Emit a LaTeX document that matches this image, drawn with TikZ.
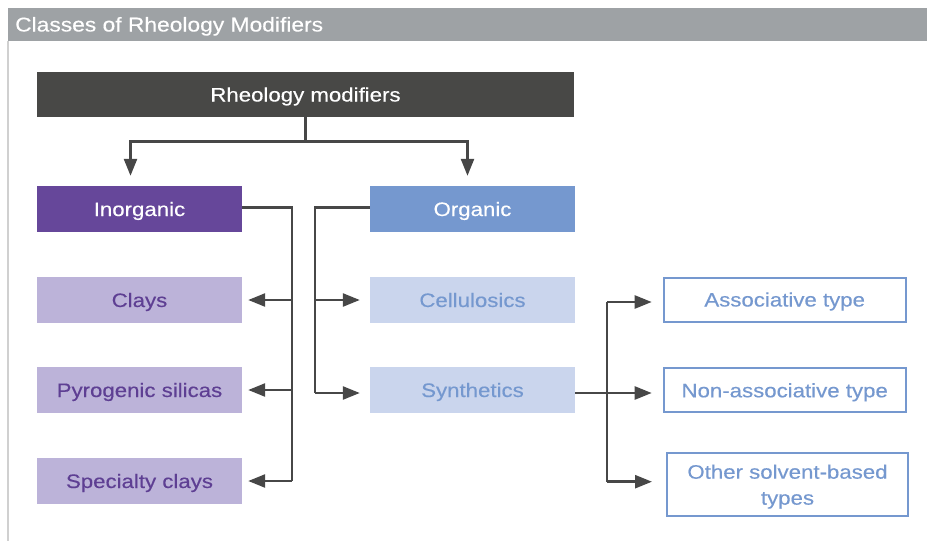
\documentclass[tikz,border=0pt]{standalone}
\usepackage{fontspec}
\setmainfont{Liberation Sans}[FakeStretch=1.14,FakeBold=0.35]
\usetikzlibrary{arrows.meta,calc}
\definecolor{hdrgray}{HTML}{9EA2A5}
\definecolor{darkbox}{HTML}{484846}
\definecolor{purp}{HTML}{66479A}
\definecolor{lpurp}{HTML}{BCB3D9}
\definecolor{purptext}{HTML}{5E3F93}
\definecolor{blu}{HTML}{7598CF}
\definecolor{lblu}{HTML}{CAD5ED}
\definecolor{linec}{HTML}{474747}
\definecolor{bordc}{HTML}{D0D0D0}
\tikzset{
  box/.style={inner sep=0pt, minimum width=205pt, minimum height=46pt, align=center, text height=18pt, text depth=4pt, font=\fontsize{19.5}{26}\selectfont},
  topbox/.style={box, fill=darkbox, text=white, minimum width=537pt, minimum height=45pt},
  inorgbox/.style={box, fill=purp, text=white},
  orgbox/.style={box, fill=blu, text=white},
  lpbox/.style={box, fill=lpurp, text=purptext},
  lbbox/.style={box, fill=lblu, text=blu},
  outbox/.style={box, draw=blu, line width=2pt, fill=white, text=blu, minimum width=242pt, minimum height=44pt},
  conn/.style={draw=linec, line width=2.5pt},
  arr/.style={conn, -{Triangle[length=17pt,width=13pt]}},
}
\begin{document}
\begin{tikzpicture}[x=1pt,y=-1pt]
\useasboundingbox (0,0) rectangle (927,541);
% header
\fill[hdrgray] (7.5,8) rectangle (927,41);
\draw[bordc, line width=1.5pt] (8,41) -- (8,541);
\node[anchor=base west, text=white, inner sep=0pt, font=\fontsize{20}{24}\selectfont] (title) at (15,31.5) {Classes of Rheology Modifiers};
% nodes
\node[topbox] (rm) at (305.5,94.5) {Rheology modifiers};
\node[inorgbox] (inorg) at (139.5,209) {Inorganic};
\node[orgbox] (org) at (472.5,209) {Organic};
\node[lpbox] (clays) at (139.5,300) {Clays};
\node[lpbox] (pyro) at (139.5,390) {Pyrogenic silicas};
\node[lpbox] (spec) at (139.5,481) {Specialty clays};
\node[lbbox] (cell) at (472.5,300) {Cellulosics};
\node[lbbox] (syn) at (472.5,390) {Synthetics};
\node[outbox] (assoc) at (784.7,299.5) {Associative type};
\node[outbox] (nonassoc) at (784.7,390.3) {Non-associative type};
\node[outbox, text height={}, text depth={}, minimum height=63pt, minimum width=241pt] (other) at (787.5,484.2) {\rule{0pt}{19pt}Other solvent-based\\types};
% top connectors
\coordinate (tj) at ($(rm.south)+(0,24.5)$);
\draw[conn] (rm.south) -- (tj);
\draw[arr] (tj) -| ($(inorg.north)+(-9,-10)$);
\draw[arr] (tj) -| ($(org.north)+(-5,-10)$);
% inorganic connectors
\coordinate (iv) at (292,0);
\draw[conn] ([yshift=1.5pt]inorg.east) -- ([yshift=1.5pt]inorg.east -| iv) -- (spec.east -| iv);
\draw[arr] (clays.east -| iv) -- ($(clays.east)+(6,0)$);
\draw[arr] (pyro.east -| iv) -- ($(pyro.east)+(6,0)$);
\draw[arr] (spec.east -| iv) -- ($(spec.east)+(6,0)$);
% organic connectors
\coordinate (ov) at (315,0);
\draw[conn] ([yshift=1.5pt]org.west) -- ([yshift=1.5pt]org.west -| ov) -- ([yshift=-3pt]syn.west -| ov);
\draw[arr] (cell.west -| ov) -- ($(cell.west)+(-10,0)$);
\draw[arr] ([yshift=-3pt]syn.west -| ov) -- ($([yshift=-3pt]syn.west)+(-10,0)$);
% synthetics connectors
\coordinate (sv) at (607,0);
\draw[arr] ([yshift=-3pt]syn.east) -- ($([yshift=-3pt]syn.east -| nonassoc.west)+(-11,0)$);
\draw[conn] ([yshift=-2.5pt]assoc.west -| sv) -- ([yshift=2.5pt]other.west -| sv);
\draw[arr] ([yshift=-2.5pt]assoc.west -| sv) -- ($([yshift=-2.5pt]assoc.west)+(-11,0)$);
\draw[arr] ([yshift=2.5pt]other.west -| sv) -- ($([yshift=2.5pt]other.west)+(-14,0)$);
\end{tikzpicture}
\end{document}
